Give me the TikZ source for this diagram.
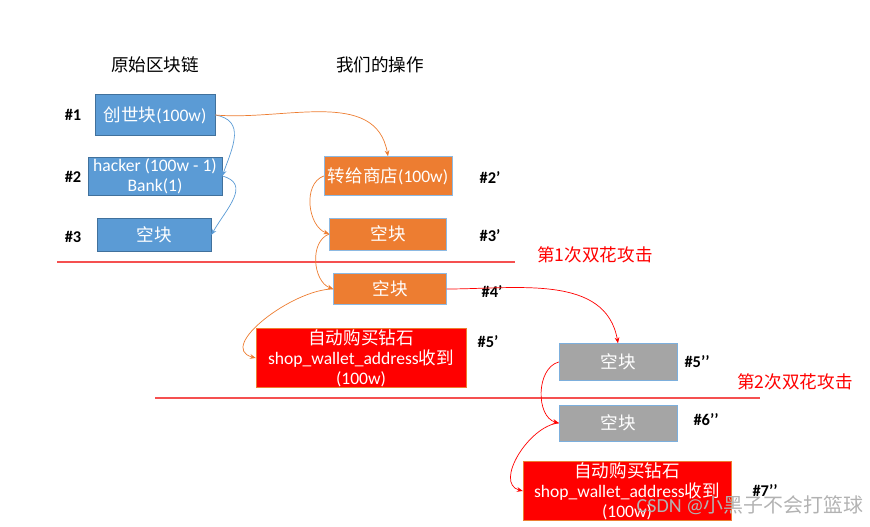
\documentclass[tikz,border=0pt]{standalone}
\usepackage{fontspec}
\setmainfont{Carlito}
\newfontfamily\cjk{Noto Sans CJK SC}
\usetikzlibrary{arrows.meta, positioning}
\definecolor{chainBlue}{RGB}{91, 155, 213}
\definecolor{chainEdge}{RGB}{65, 113, 156}
\definecolor{shopOrange}{RGB}{237, 125, 49}
\definecolor{emptyGray}{RGB}{165, 165, 165}
\definecolor{attackRed}{RGB}{255, 0, 0}
\definecolor{lineRed}{RGB}{245, 80, 80}

\begin{document}
\begin{tikzpicture}[
        x=0.03cm, y=0.03cm,
        font=\fontsize{15}{17}\selectfont,
        chain/.style={rectangle, draw=chainEdge, fill=chainBlue, text=white, inner sep=0pt, align=center},
        ours/.style={rectangle, draw=chainBlue!70, fill=shopOrange, text=white, inner sep=0pt, align=center},
        empty/.style={rectangle, draw=chainBlue!80, fill=emptyGray, text=white, inner sep=0pt, align=center},
        buy/.style={rectangle, draw=shopOrange, fill=attackRed, text=white, inner sep=0pt, align=center},
        tag/.style={font=\bfseries\fontsize{14}{16}\selectfont, text=black},
        head/.style={font=\cjk\fontsize{15}{17}\selectfont},
        attack/.style={font=\cjk\fontsize{15}{17}\selectfont, text=attackRed},
        fork/.style={lineRed, line width=0.9pt},
        arrow/.style={-{Stealth[length=5pt, width=4pt]}, line width=0.6pt}
    ]
        \useasboundingbox (0,0) rectangle (870,526);

        % headers
        \node[head] (orig) at (155,461) {原始区块链};
        \node[head] (mine) at (380,461) {我们的操作};

        % original chain
        \node[chain, minimum width=3.6cm, minimum height=1.23cm] (b1) at (155,411) {{\cjk 创世块}(100w)};
        \node[chain, minimum width=4.02cm, minimum height=1.14cm] (b2) at (155,350) {hacker (100w - 1)\\Bank(1)};
        \node[chain, minimum width=3.42cm, minimum height=0.99cm] (b3) at (154,291) {\cjk 空块};
        \node[tag] (n1) at (73,411) {\#1};
        \node[tag] (n2) at (73,349) {\#2};
        \node[tag] (n3) at (73,289) {\#3};

        % our operation
        \node[ours, minimum width=3.84cm, minimum height=1.17cm] (o1) at (388,350) {{\cjk 转给商店}(100w)};
        \node[ours, minimum width=3.51cm, minimum height=0.96cm] (o2) at (388,292) {\cjk 空块};
        \node[ours, minimum width=3.39cm, minimum height=0.93cm] (o3) at (390,237) {\cjk 空块};
        \node[buy, minimum width=6.3cm, minimum height=1.77cm] (r1) at (361,168) {{\cjk 自动购买钻石}\\shop\_wallet\_address{\cjk 收到}\\(100w)};
        \node[tag] (m2) at (490,348) {\#2’};
        \node[tag] (m3) at (490,290) {\#3’};
        \node[tag] (m4) at (492,234) {\#4’};
        \node[tag] (m5) at (488,184) {\#5’};

        % second fork
        \node[empty, minimum width=3.54cm, minimum height=1.11cm] (g1) at (618,164) {\cjk 空块};
        \node[empty, minimum width=3.54cm, minimum height=1.08cm] (g2) at (618,103) {\cjk 空块};
        \node[buy, minimum width=6.24cm, minimum height=1.77cm] (r2) at (627,35) {{\cjk 自动购买钻石}\\shop\_wallet\_address{\cjk 收到}\\(100w)};
        \node[tag] (k5) at (697,164) {\#5’’};
        \node[tag] (k6) at (706,106) {\#6’’};
        \node[tag] (k7) at (765,35) {\#7’’};

        % attack lines
        \coordinate (f1a) at (57,264);
        \coordinate (f1b) at (515,264);
        \coordinate (f2a) at (155,128);
        \coordinate (f2b) at (760,128);
        \draw[fork] (f1a) -- (f1b);
        \draw[fork] (f2a) -- (f2b);
        \node[attack] (a1) at (595,271) {第1次双花攻击};
        \node[attack] (a2) at (795,144) {第2次双花攻击};

        % links
        \draw[arrow, chainBlue] (b1.east) to[out=-10, in=70, looseness=1.3] (b2.east);
        \draw[arrow, chainBlue] (b2.east) to[out=-15, in=60, looseness=1.3] (b3.east);
        \draw[arrow, shopOrange] (b1.east) to[out=-5, in=100] (o1.north);
        \draw[arrow, shopOrange] (o1.west) to[out=200, in=160] (o2.west);
        \draw[arrow, shopOrange] (o2.west) to[out=200, in=160] (o3.west);
        \draw[arrow, shopOrange] (o3.west) to[out=180, in=165] (r1.west);
        \draw[arrow, attackRed] (o3.east) to[out=0, in=100] (g1.north);
        \draw[arrow, attackRed] (g1.west) to[out=195, in=165] (g2.west);
        \draw[arrow, attackRed] (g2.west) to[out=185, in=165] (r2.west);

        % watermark
        \node[text=gray!60, font=\fontsize{17}{20}\selectfont] (wm) at (750,21) {CSDN @{\cjk 小黑子不会打篮球}};
    \end{tikzpicture}
\end{document}
